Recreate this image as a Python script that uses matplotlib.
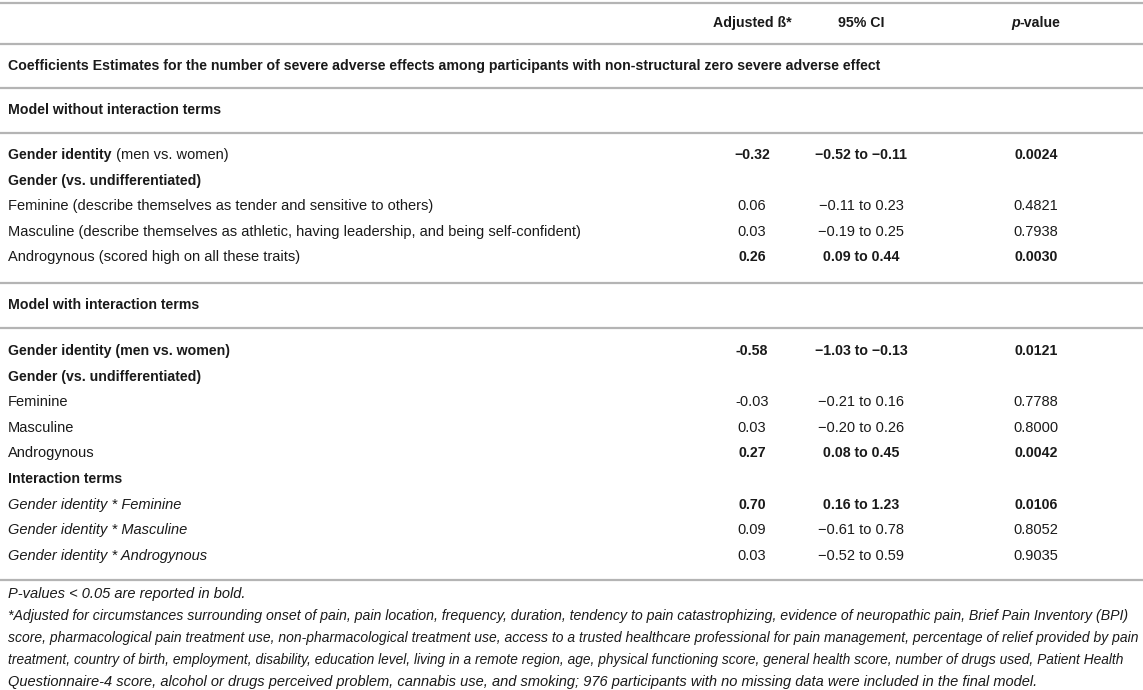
import matplotlib
matplotlib.use("Agg")
import matplotlib.pyplot as plt

plt.rcParams["font.family"] = ["Liberation Sans", "DejaVu Sans"]

# table content
col_headers = ["Adjusted ß*", "95% CI", "p-value"]
section_title = ("Coefficients Estimates for the number of severe adverse effects among "
                 "participants with non-structural zero severe adverse effect")

model1_title = "Model without interaction terms"
model1_labels = [
    "Gender identity",
    "Gender (vs. undifferentiated)",
    "Feminine (describe themselves as tender and sensitive to others)",
    "Masculine (describe themselves as athletic, having leadership, and being self-confident)",
    "Androgynous (scored high on all these traits)",
]
model1_beta = ["−0.32", "", "0.06", "0.03", "0.26"]
model1_ci = ["−0.52 to −0.11", "", "−0.11 to 0.23", "−0.19 to 0.25", "0.09 to 0.44"]
model1_p = ["0.0024", "", "0.4821", "0.7938", "0.0030"]
model1_label_bold = [True, True, False, False, False]
model1_value_bold = [True, False, False, False, True]

model2_title = "Model with interaction terms"
model2_labels = [
    "Gender identity (men vs. women)",
    "Gender (vs. undifferentiated)",
    "Feminine",
    "Masculine",
    "Androgynous",
    "Interaction terms",
    "Gender identity * Feminine",
    "Gender identity * Masculine",
    "Gender identity * Androgynous",
]
model2_beta = ["-0.58", "", "-0.03", "0.03", "0.27", "", "0.70", "0.09", "0.03"]
model2_ci = ["−1.03 to −0.13", "", "−0.21 to 0.16", "−0.20 to 0.26", "0.08 to 0.45",
             "", "0.16 to 1.23", "−0.61 to 0.78", "−0.52 to 0.59"]
model2_p = ["0.0121", "", "0.7788", "0.8000", "0.0042", "", "0.0106", "0.8052", "0.9035"]
model2_label_bold = [True, True, False, False, False, True, False, False, False]
model2_value_bold = [True, False, False, False, True, False, True, False, False]
model2_italic = [False, False, False, False, False, False, True, True, True]

footnotes = [
    "P-values < 0.05 are reported in bold.",
    "*Adjusted for circumstances surrounding onset of pain, pain location, frequency, duration, "
    "tendency to pain catastrophizing, evidence of neuropathic pain, Brief Pain Inventory (BPI)",
    "score, pharmacological pain treatment use, non-pharmacological treatment use, access to a "
    "trusted healthcare professional for pain management, percentage of relief provided by pain",
    "treatment, country of birth, employment, disability, education level, living in a remote "
    "region, age, physical functioning score, general health score, number of drugs used, Patient Health",
    "Questionnaire-4 score, alcohol or drugs perceived problem, cannabis use, and smoking; 976 "
    "participants with no missing data were included in the final model.",
]

W, H = 1143, 690
fig = plt.figure(figsize=(W / 100, H / 100), dpi=100)
ax = fig.add_axes([0, 0, 1, 1])
ax.set_xlim(0, W)
ax.set_ylim(H, 0)
ax.axis("off")

FS = 10.5     # regular text
FSB = 10.2    # bold text
TXT = "#1a1a1a"
LINE = "#b4b4b4"
x_label = 8
x_cols = [752, 861, 1036]

fig.canvas.draw()
r = fig.canvas.get_renderer()


def right_edge(t):
    bb = t.get_window_extent(r)
    return ax.transData.inverted().transform((bb.x1, bb.y0))[0]


for y in [3, 44, 88, 133, 283, 328, 580]:
    ax.axhline(y, color=LINE, lw=1.6)

# header
ax.text(x_cols[0], 23, col_headers[0], ha="center", va="center", fontsize=FSB,
        fontweight="bold", color=TXT)
ax.text(x_cols[1], 23, col_headers[1], ha="center", va="center", fontsize=FSB,
        fontweight="bold", color=TXT)
ax.text(x_cols[2] - 16, 23, "p", ha="right", va="center", fontsize=FSB,
        fontweight="bold", fontstyle="italic", color=TXT)
ax.text(x_cols[2] - 16, 23, "-value", ha="left", va="center", fontsize=FSB,
        fontweight="bold", color=TXT)

for y, title in [(66, section_title), (110, model1_title), (305, model2_title)]:
    ax.text(x_label, y, title, ha="left", va="center", fontsize=FSB,
            fontweight="bold", color=TXT)


def draw_row(y, label, beta, ci, p, lbold, vbold, italic=False):
    t = ax.text(x_label, y, label, ha="left", va="center",
                fontsize=FSB if lbold else FS,
                fontweight="bold" if lbold else "normal",
                fontstyle="italic" if italic else "normal", color=TXT)
    for x, v in zip(x_cols, [beta, ci, p]):
        ax.text(x, y, v, ha="center", va="center",
                fontsize=FSB if vbold else FS,
                fontweight="bold" if vbold else "normal", color=TXT)
    return t


step = 25.6
for i in range(len(model1_labels)):
    t = draw_row(155 + i * step, model1_labels[i], model1_beta[i], model1_ci[i],
                 model1_p[i], model1_label_bold[i], model1_value_bold[i])
    if i == 0:
        # only the first part of this label is bold
        ax.text(right_edge(t), 155, " (men vs. women)", ha="left", va="center",
                fontsize=FS, color=TXT)

for i in range(len(model2_labels)):
    draw_row(351 + i * step, model2_labels[i], model2_beta[i], model2_ci[i],
             model2_p[i], model2_label_bold[i], model2_value_bold[i], model2_italic[i])

# footnotes, shrunk where needed to fit the width like the justified original
max_w = 1127
for i, line in enumerate(footnotes):
    t = ax.text(x_label, 594 + i * 22.0, line, ha="left", va="center", fontsize=FS,
                fontstyle="italic", color=TXT)
    w = right_edge(t) - x_label
    if w > max_w:
        t.set_fontsize(FS * max_w / w)

fig.savefig("out.png", dpi=100)
